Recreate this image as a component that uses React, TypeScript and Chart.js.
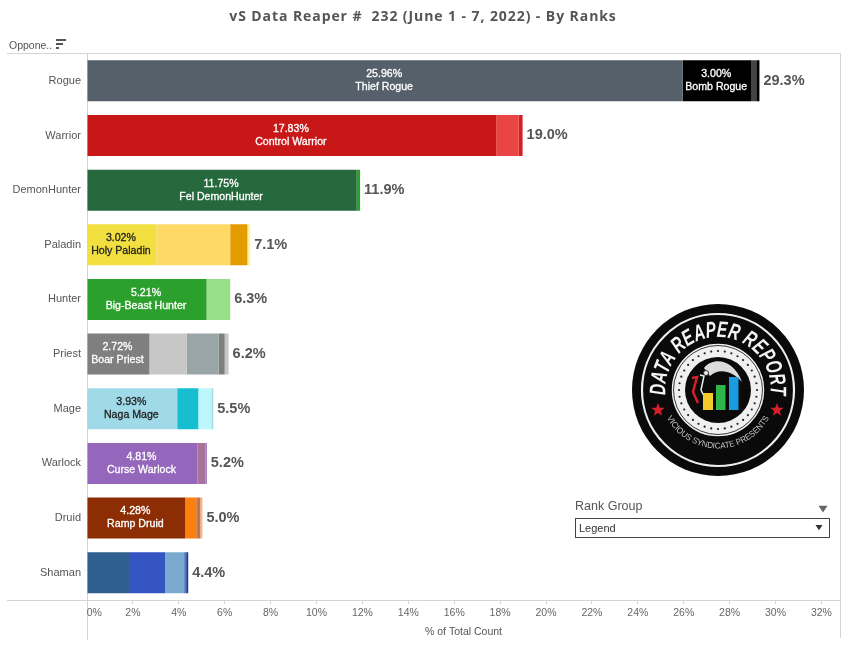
import React, { useEffect, useRef } from 'react';
import { Chart, registerables } from 'chart.js';

Chart.register(...registerables);

const classes = ['Rogue', 'Warrior', 'DemonHunter', 'Paladin', 'Hunter', 'Priest', 'Mage', 'Warlock', 'Druid', 'Shaman'];

// each array is one stack position, left to right
const segment1 = [25.96, 17.83, 11.75, 3.02, 5.21, 2.72, 3.93, 4.81, 4.28, 1.83];
const segment2 = [3.0, 0.98, 0.15, 3.22, 1.03, 1.62, 0.92, 0.36, 0.48, 1.57];
const segment3 = [0.2, 0.17, 0, 0.75, 0, 1.4, 0.57, 0.05, 0.18, 0.83];
const segment4 = [0.14, 0, 0, 0.12, 0, 0.26, 0.08, 0, 0.09, 0.09];
const segment5 = [0, 0, 0, 0, 0, 0.17, 0, 0, 0, 0.09];

const colors1 = ['#56606a', '#c91616', '#25693d', '#f1e040', '#2ca02c', '#7f7f7f', '#a0dae8', '#9467bd', '#8c2d04', '#2f5f8f'];
const colors2 = ['#000000', '#e94545', '#2ca02c', '#ffd966', '#98df8a', '#c7c7c7', '#17becf', '#a87299', '#fd7f0e', '#3354c1'];
const colors3 = ['#444444', '#d42020', '#ffffff', '#e39b00', '#ffffff', '#9aa5a8', '#bdf7fb', '#9467bd', '#c4744a', '#7baad0'];
const colors4 = ['#000000', '#ffffff', '#ffffff', '#fff59d', '#ffffff', '#7f7f7f', '#9edae5', '#ffffff', '#fdb97d', '#4f7fc0'];
const colors5 = ['#ffffff', '#ffffff', '#ffffff', '#ffffff', '#ffffff', '#c7c7c7', '#ffffff', '#ffffff', '#ffffff', '#1f3a93'];

const names1 = ['Thief Rogue', 'Control Warrior', 'Fel DemonHunter', 'Holy Paladin', 'Big-Beast Hunter', 'Boar Priest', 'Naga Mage', 'Curse Warlock', 'Ramp Druid', ''];
const names2 = ['Bomb Rogue', '', '', '', '', '', '', '', '', ''];
const nameColors = ['#ffffff', '#ffffff', '#ffffff', '#222222', '#ffffff', '#ffffff', '#222222', '#ffffff', '#ffffff', '#ffffff'];
const totals = ['29.3%', '19.0%', '11.9%', '7.1%', '6.3%', '6.2%', '5.5%', '5.2%', '5.0%', '4.4%'];

const titleText = 'vS Data Reaper #  232 (June 1 - 7, 2022) - By Ranks';
const FONT = '"Liberation Sans", Arial, sans-serif';
const GREY = '#d4d4d4';

const decorPlugin = {
  id: 'decor',
  beforeDraw(chart: Chart) {
    const { ctx, chartArea } = chart;
    const { left, right, bottom } = chartArea;
    ctx.save();
    ctx.strokeStyle = GREY;
    ctx.lineWidth = 1;
    ctx.beginPath();
    ctx.moveTo(7, 53.5);
    ctx.lineTo(right, 53.5);
    ctx.moveTo(7, bottom + 0.5);
    ctx.lineTo(right, bottom + 0.5);
    ctx.moveTo(left + 0.5, 53);
    ctx.lineTo(left + 0.5, 640);
    ctx.moveTo(right + 0.5, 53);
    ctx.lineTo(right + 0.5, 638);
    ctx.stroke();

    ctx.textBaseline = 'middle';
    ctx.fillStyle = '#555555';
    ctx.textAlign = 'center';
    ctx.font = '700 14px "Open Sans", sans-serif';
    (ctx as any).letterSpacing = '0.92px';
    ctx.fillText(titleText, 423, 17);
    (ctx as any).letterSpacing = '0px';

    ctx.textAlign = 'left';
    ctx.font = `10.5px ${FONT}`;
    ctx.fillText('Oppone..', 9, 46);
    ctx.fillRect(56, 39, 10, 2);
    ctx.fillRect(56, 43, 7, 2);
    ctx.fillRect(56, 47, 3, 2);

    ctx.font = `12.5px ${FONT}`;
    ctx.fillText('Rank Group', 575, 507);
    ctx.fillStyle = '#666666';
    triangle(ctx, 823, 509, 4.5);

    ctx.strokeStyle = '#444444';
    ctx.strokeRect(575.5, 518.5, 254, 19);
    ctx.fillStyle = '#333333';
    ctx.font = `11px ${FONT}`;
    ctx.fillText('Legend', 579, 528.5);
    triangle(ctx, 819, 527.5, 3.5);
    ctx.restore();
  },
  afterDatasetsDraw(chart: Chart) {
    const { ctx } = chart;
    ctx.save();
    ctx.textAlign = 'center';
    ctx.textBaseline = 'middle';
    ctx.font = `10.6px ${FONT}`;
    ctx.lineWidth = 0.3;
    [names1, names2].forEach((names, ds) => {
      const bars = chart.getDatasetMeta(ds).data as any[];
      const values = chart.data.datasets[ds].data as number[];
      names.forEach((name, i) => {
        if (!name) return;
        const cx = (bars[i].x + bars[i].base) / 2 - 1;
        const pct = values[i].toFixed(2) + '%';
        ctx.fillStyle = nameColors[i];
        ctx.strokeStyle = nameColors[i];
        ctx.fillText(pct, cx, bars[i].y - 6.5);
        ctx.fillText(name, cx, bars[i].y + 6.5);
        // the reference text reads slightly heavier than a plain fill
        ctx.strokeText(pct, cx, bars[i].y - 6.5);
        ctx.strokeText(name, cx, bars[i].y + 6.5);
      });
    });

    // totals sit right after the last visible segment of each stack
    ctx.textAlign = 'left';
    ctx.fillStyle = '#555555';
    ctx.font = `bold 14.5px ${FONT}`;
    const xScale = chart.scales.x;
    const stacks = [segment1, segment2, segment3, segment4, segment5];
    totals.forEach((label, i) => {
      const end = stacks.reduce((sum, s) => sum + s[i], 0);
      const y = (chart.getDatasetMeta(0).data[i] as any).y;
      ctx.fillText(label, xScale.getPixelForValue(end) + 4, y);
    });
    ctx.restore();
  },
};

function triangle(ctx: CanvasRenderingContext2D, x: number, y: number, r: number) {
  ctx.beginPath();
  ctx.moveTo(x - r, y - r * 0.7);
  ctx.lineTo(x + r, y - r * 0.7);
  ctx.lineTo(x, y + r * 0.8);
  ctx.closePath();
  ctx.fill();
}

const Star: React.FC<{ x: number; y: number }> = ({ x, y }) => (
  <polygon
    transform={`translate(${x} ${y})`}
    fill="#d4202a"
    points="0,-7 1.8,-2.2 6.8,-2.2 2.8,0.9 4.2,5.8 0,2.9 -4.2,5.8 -2.8,0.9 -6.8,-2.2 -1.8,-2.2"
  />
);

const Badge: React.FC = () => {
  const dots = Array.from({ length: 36 }, (_, i) => (i * Math.PI * 2) / 36);
  return (
    <svg width="849" height="648" style={{ position: 'absolute', left: 0, top: 0, pointerEvents: 'none' }}>
      <g transform="translate(718 390)">
        <defs>
          <path id="badgeTop" d="M -52 9 A 52.8 52.8 0 1 1 52 9" />
          <path id="badgeBottom" d="M -53 24 A 58 58 0 0 0 53 24" />
        </defs>
        <circle r="86" fill="#0a0a0a" />
        <circle r="76" fill="none" stroke="#eeeeee" strokeWidth="2.2" />
        <text fill="#f4f4f4" fontFamily="Liberation Sans" fontWeight="bold" fontStyle="italic" fontSize="22.5">
          <textPath href="#badgeTop" startOffset="50%" textAnchor="middle" textLength="176" lengthAdjust="spacingAndGlyphs">
            DATA REAPER REPORT
          </textPath>
        </text>
        <text fill="#c8c8c8" fontFamily="Liberation Sans" fontSize="8.5">
          <textPath href="#badgeBottom" startOffset="50%" textAnchor="middle" textLength="125" lengthAdjust="spacingAndGlyphs">
            VICIOUS SYNDICATE PRESENTS
          </textPath>
        </text>
        <Star x={-60} y={20} />
        <Star x={59} y={20} />
        <circle r="47" fill="#f0f0f0" />
        <circle r="47" fill="none" stroke="#0a0a0a" strokeWidth="1.5" />
        <circle r="44.5" fill="none" stroke="#0a0a0a" strokeWidth="0.8" />
        {dots.map((a) => (
          <circle key={a} cx={39 * Math.cos(a)} cy={39 * Math.sin(a)} r="1.1" fill="#222222" />
        ))}
        <circle r="33" fill="#0a0a0a" />
        <path d="M -14 -22 C -4 -34 16 -30 24 -8 C 14 -20 0 -22 -8 -14 Z" fill="#dcdcdc" />
        <circle cx="-12" cy="-17" r="2.5" fill="#eeeeee" stroke="#333333" />
        <path d="M -26 -12 L -21 -13 L -25 2 L -20 13" fill="none" stroke="#d4202a" strokeWidth="2.5" />
        <path d="M -18 -15 L -14 -14 L -17 0 L -14 6" fill="none" stroke="#eeeeee" strokeWidth="1.5" />
        <rect x="-15" y="3" width="10" height="17" fill="#f4c92c" />
        <rect x="-2" y="-5" width="9.5" height="25" fill="#2fb64a" />
        <rect x="11" y="-13" width="9.5" height="33" fill="#1a9be0" />
      </g>
    </svg>
  );
};

export default function App() {
  const canvasRef = useRef<HTMLCanvasElement | null>(null);

  useEffect(() => {
    const ctx = canvasRef.current?.getContext('2d');
    if (!ctx) return;

    const chart = new Chart(ctx, {
      type: 'bar',
      data: {
        labels: classes,
        datasets: [
          { data: segment1, backgroundColor: colors1 },
          { data: segment2, backgroundColor: colors2 },
          { data: segment3, backgroundColor: colors3 },
          { data: segment4, backgroundColor: colors4 },
          { data: segment5, backgroundColor: colors5 },
        ],
      },
      options: {
        indexAxis: 'y',
        responsive: false,
        animation: false,
        layout: { padding: { top: 53.5, right: 9, left: 0, bottom: 0 } },
        datasets: { bar: { barThickness: 41, borderWidth: 0, inflateAmount: 0 } },
        plugins: { legend: { display: false }, tooltip: { enabled: false } },
        scales: {
          x: {
            stacked: true,
            min: 0,
            max: 32.81,
            grid: { drawOnChartArea: false, tickLength: 4, color: GREY },
            border: { display: false },
            ticks: {
              stepSize: 2,
              includeBounds: false,
              autoSkip: false,
              maxRotation: 0,
              padding: 3,
              color: '#666666',
              font: { family: FONT, size: 10.5 },
              // the 0% label starts at the axis line rather than centring on it
              callback: (v) => (v === 0 ? '     0%' : `${v}%`),
            },
            title: {
              display: true,
              text: '% of Total Count',
              color: '#555555',
              font: { family: FONT, size: 10.5 },
              padding: { top: 4, bottom: 10 },
            },
            afterFit: (scale) => {
              scale.height = 48;
            },
          },
          y: {
            stacked: true,
            grid: { display: false, drawTicks: false },
            border: { display: false },
            ticks: {
              padding: 6,
              color: '#555555',
              font: { family: FONT, size: 11 },
              autoSkip: false,
            },
            afterFit: (scale) => {
              scale.width = 87;
            },
          },
        },
      },
      plugins: [decorPlugin],
    } as any);

    return () => chart.destroy();
  }, []);

  return (
    <div style={{ position: 'absolute', left: 0, top: 0, width: 849, height: 648, background: '#ffffff' }}>
      <canvas ref={canvasRef} width={849} height={648} style={{ display: 'block' }} />
      <Badge />
    </div>
  );
}
